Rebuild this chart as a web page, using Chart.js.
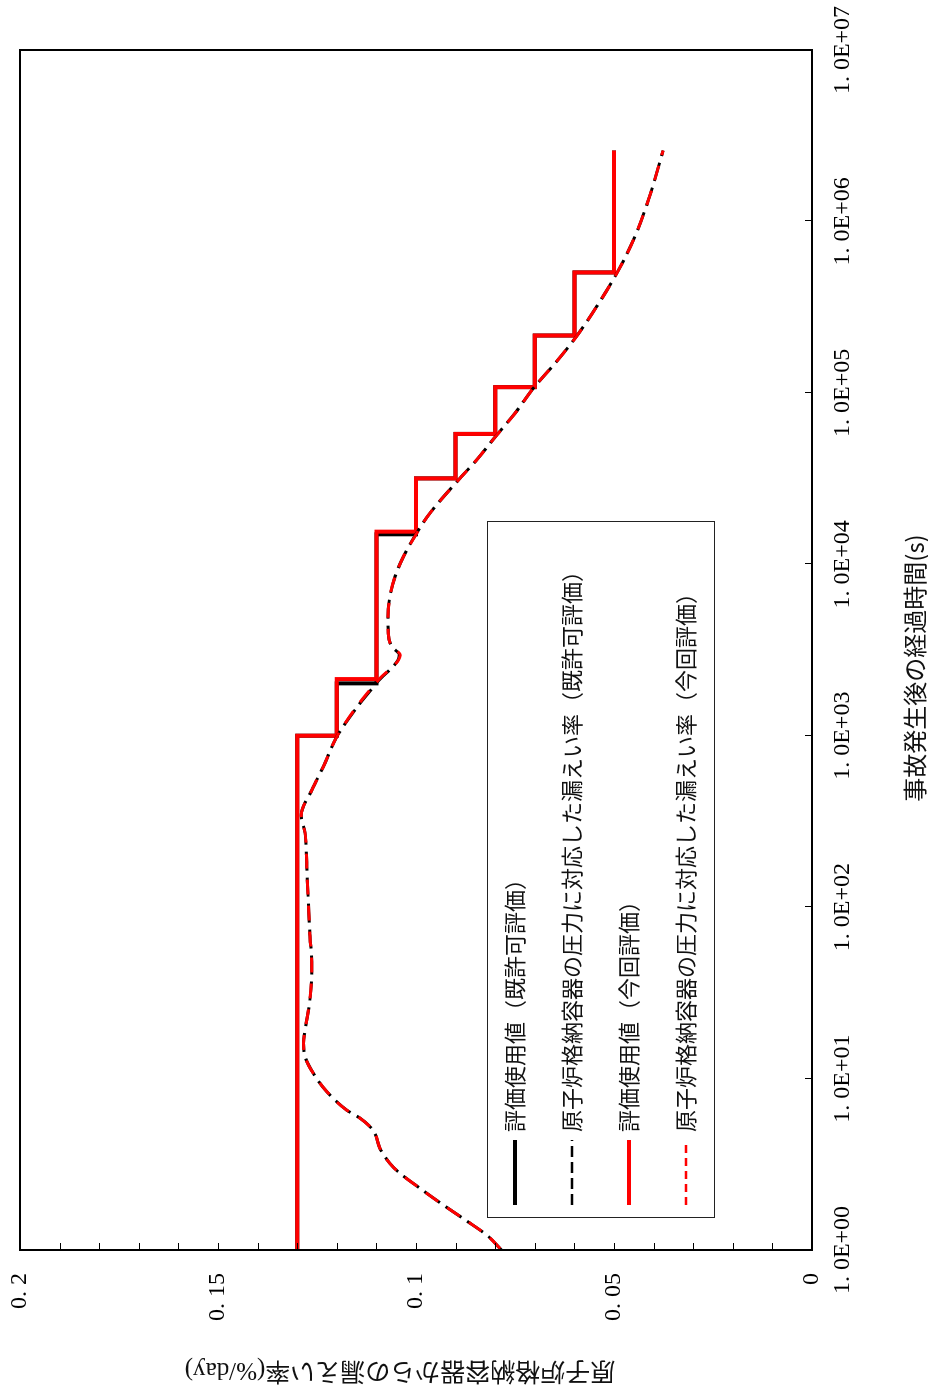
<!DOCTYPE html>
<html lang="ja">
<head>
<meta charset="utf-8">
<title>原子炉格納容器からの漏えい率</title>
<script src="https://cdn.jsdelivr.net/npm/chart.js@4.4.1/dist/chart.umd.min.js"></script>
<style>
  html, body { margin: 0; padding: 0; background: #fff; overflow: hidden; }
  body { width: 928px; height: 1393px; position: relative; }
  /* the chart is laid out landscape and turned a quarter left, like the original sheet */
  #wrap {
    position: absolute; left: 0; top: 0; width: 1393px; height: 928px;
    transform-origin: 0 0; transform: translate(0, 1393px) rotate(-90deg);
  }
  canvas { display: block; }
</style>
</head>
<body>
<div id="wrap"><canvas id="leak-chart" width="1393" height="928"></canvas></div>
<script>
'use strict';

// Axis ticks
const timeTicks = [1, 10, 100, 1000, 1e4, 1e5, 1e6, 1e7];
const timeTickLabels = ['1. 0E+00', '1. 0E+01', '1. 0E+02', '1. 0E+03', '1. 0E+04', '1. 0E+05', '1. 0E+06', '1. 0E+07'];
const rateTickLabels = ['0', '0. 05', '0. 1', '0. 15', '0. 2'];

// 評価使用値（既許可評価） - step values
const stepTimesPrev = [1, 1000, 2020, 14960, 31700, 57600, 108000, 216000, 504000, 2592000];
const stepRatesPrev = [0.13, 0.12, 0.11, 0.10, 0.09, 0.08, 0.07, 0.06, 0.05, 0.05];

// 評価使用値（今回評価） - step values
const stepTimesNow = [1, 1000, 2140, 15500, 31700, 57600, 108000, 216000, 504000, 2592000];
const stepRatesNow = [0.13, 0.12, 0.11, 0.10, 0.09, 0.08, 0.07, 0.06, 0.05, 0.05];

// 圧力に対応した漏えい率（既許可評価）
const curveTimesPrev = [1, 1.22, 1.5, 1.83, 2.29, 2.86, 3.2, 3.92, 4.8, 5.3, 5.87, 6.55, 8.38, 10.7, 13.4, 16.1, 19.2, 28.7,
  45, 70, 110, 172, 270, 344, 482, 660, 986, 1476, 2050, 2960, 3306, 3956, 4945, 6466, 8464, 11070, 15000, 19840,
  31000, 40600, 56800, 76000, 106300, 148700, 214700, 318000, 498000, 779000, 1334000, 2592000];
const curveRatesPrev = [0.0784, 0.0821, 0.0876, 0.0931, 0.099, 0.1045, 0.1066, 0.1091, 0.1104, 0.1118, 0.1141, 0.1175, 0.1225, 0.1259, 0.128, 0.1284, 0.128, 0.1268,
  0.1263, 0.1268, 0.1272, 0.1276, 0.128, 0.129, 0.1263, 0.1234, 0.12, 0.1148, 0.1098, 0.1042, 0.1061, 0.107, 0.1071, 0.1066, 0.1053, 0.1032, 0.1, 0.0965,
  0.0893, 0.0847, 0.0796, 0.075, 0.0704, 0.0649, 0.0594, 0.0544, 0.0493, 0.0451, 0.0413, 0.0376];

// 圧力に対応した漏えい率（今回評価）
const curveTimesNow = [1, 1.22, 1.5, 1.83, 2.29, 2.86, 3.2, 3.92, 4.8, 5.24, 5.87, 6.55, 8.38, 10.7, 13.4, 16.1, 19.2, 28.7,
  45, 70, 110, 172, 270, 344, 482, 660, 986, 1476, 2113, 2957, 3306, 3956, 4945, 6466, 8464, 11070, 15170, 19840,
  31000, 40600, 56800, 76000, 106300, 148700, 214700, 318000, 498000, 779000, 1334000, 2592000];
const curveRatesNow = [0.0784, 0.0821, 0.0876, 0.0931, 0.099, 0.1045, 0.1066, 0.1091, 0.1104, 0.1116, 0.1141, 0.1175, 0.1225, 0.1259, 0.128, 0.1284, 0.128, 0.1268,
  0.1263, 0.1268, 0.1272, 0.1276, 0.128, 0.129, 0.1263, 0.1234, 0.12, 0.115, 0.1095, 0.104, 0.1061, 0.107, 0.1071, 0.1066, 0.1053, 0.1032, 0.0998, 0.0965,
  0.0893, 0.0847, 0.0796, 0.075, 0.0704, 0.0649, 0.0594, 0.0544, 0.0493, 0.0451, 0.0413, 0.0376];

const seriesLabels = [
  '評価使用値（既許可評価）',
  '原子炉格納容器の圧力に対応した漏えい率（既許可評価）',
  '評価使用値（今回評価）',
  '原子炉格納容器の圧力に対応した漏えい率（今回評価）',
];
const xTitle = '事故発生後の経過時間(s)';
const yTitle = '原子炉格納容器からの漏えい率(%/day)';

const toPoints = (xs, ys) => xs.map((x, i) => ({ x, y: ys[i] }));
const tickFont = { family: '"Liberation Serif", "DejaVu Serif", serif', size: 24 };
const jpFont = '"Noto Sans CJK JP", sans-serif';

const baseLine = { pointRadius: 0, fill: false, backgroundColor: 'transparent' };

// 'before' in Chart.js = run flat first, then drop at the next time
const datasets = [
  { ...baseLine, label: seriesLabels[0], data: toPoints(stepTimesPrev, stepRatesPrev),
    borderColor: '#000000', borderWidth: 4, stepped: 'before', order: 4 },
  { ...baseLine, label: seriesLabels[1], data: toPoints(curveTimesPrev, curveRatesPrev),
    borderColor: '#000000', borderWidth: 3, borderDash: [19, 7], cubicInterpolationMode: 'monotone', order: 2 },
  { ...baseLine, label: seriesLabels[2], data: toPoints(stepTimesNow, stepRatesNow),
    borderColor: '#ff0000', borderWidth: 4, stepped: 'before', order: 3 },
  { ...baseLine, label: seriesLabels[3], data: toPoints(curveTimesNow, curveRatesNow),
    borderColor: '#ff0000', borderWidth: 3, borderDash: [15, 11], borderDashOffset: -2, cubicInterpolationMode: 'monotone', order: 1 },
];

// dash used for the small legend samples
const legendDash = [null, [11, 5], null, [8, 5]];

// Frame, inward tick marks, boxed legend and axis titles.
const decorations = {
  id: 'decorations',
  afterDraw(chart) {
    const { ctx, chartArea: a, scales: { x, y } } = chart;
    ctx.save();

    ctx.strokeStyle = '#000';
    ctx.lineWidth = 1;
    ctx.beginPath();
    x.ticks.forEach((t) => {
      const px = Math.round(x.getPixelForValue(t.value)) + 0.5;
      ctx.moveTo(px, a.bottom);
      ctx.lineTo(px, a.bottom - 7);
    });
    y.ticks.forEach((t) => {
      const py = Math.round(y.getPixelForValue(t.value)) + 0.5;
      ctx.moveTo(a.left, py);
      ctx.lineTo(a.left + 7, py);
    });
    ctx.stroke();

    ctx.lineWidth = 2;
    ctx.strokeRect(a.left, a.top, a.right - a.left, a.bottom - a.top);

    // legend box
    const box = { left: 175, top: 487, width: 696, height: 227 };
    ctx.fillStyle = '#fff';
    ctx.fillRect(box.left, box.top, box.width, box.height);
    ctx.lineWidth = 1;
    ctx.strokeStyle = '#222';
    ctx.strokeRect(box.left + 0.5, box.top + 0.5, box.width, box.height);

    ctx.font = `22px ${jpFont}`;
    ctx.textBaseline = 'middle';
    ctx.textAlign = 'left';
    chart.data.datasets.forEach((ds, i) => {
      const cy = box.top + 28 + i * 57;
      ctx.save();
      ctx.strokeStyle = ds.borderColor;
      ctx.lineWidth = ds.borderDash ? 2.5 : 4;
      ctx.setLineDash(legendDash[i] || []);
      ctx.beginPath();
      ctx.moveTo(box.left + 13, cy);
      ctx.lineTo(box.left + 78, cy);
      ctx.stroke();
      ctx.restore();
      ctx.fillStyle = '#111';
      ctx.fillText(ds.label, box.left + 86, cy);
    });

    // axis titles
    ctx.fillStyle = '#111';
    ctx.textAlign = 'center';
    ctx.font = `24px ${jpFont}`;
    ctx.fillText(xTitle, 725, 915);

    ctx.translate(23, 400);
    ctx.rotate(-Math.PI / 2);
    ctx.font = `25px "Liberation Serif", ${jpFont}`;
    ctx.fillText(yTitle, 0, 0);

    ctx.restore();
  },
};

new Chart(document.getElementById('leak-chart'), {
  type: 'line',
  data: { datasets },
  options: {
    responsive: false,
    animation: false,
    layout: { padding: { top: 20, right: 50, left: 0, bottom: 0 } },
    plugins: {
      legend: { display: false },
      tooltip: { enabled: false },
    },
    scales: {
      x: {
        type: 'logarithmic',
        min: 1,
        max: 1e7,
        afterBuildTicks: (scale) => {
          scale.ticks = timeTicks.map((v) => ({ value: v }));
        },
        afterFit: (scale) => {
          scale.height = 116;
          scale.paddingLeft = 0;
          scale.paddingRight = 0;
        },
        grid: { display: false, drawTicks: false },
        border: { display: false },
        ticks: {
          autoSkip: false,
          maxRotation: 0,
          padding: 16,
          color: '#000',
          font: tickFont,
          callback: (v, i) => timeTickLabels[i],
        },
      },
      y: {
        type: 'linear',
        min: 0,
        max: 0.2,
        afterFit: (scale) => {
          scale.width = 143;
          scale.paddingTop = 0;
          scale.paddingBottom = 0;
        },
        grid: { display: false, drawTicks: false },
        border: { display: false },
        ticks: {
          stepSize: 0.01,
          autoSkip: false,
          padding: 23,
          color: '#000',
          font: tickFont,
          callback: (v) => {
            const k = Math.round(v * 100);
            return k % 5 === 0 ? rateTickLabels[k / 5] : '';
          },
        },
      },
    },
  },
  plugins: [decorations],
});
</script>
</body>
</html>
